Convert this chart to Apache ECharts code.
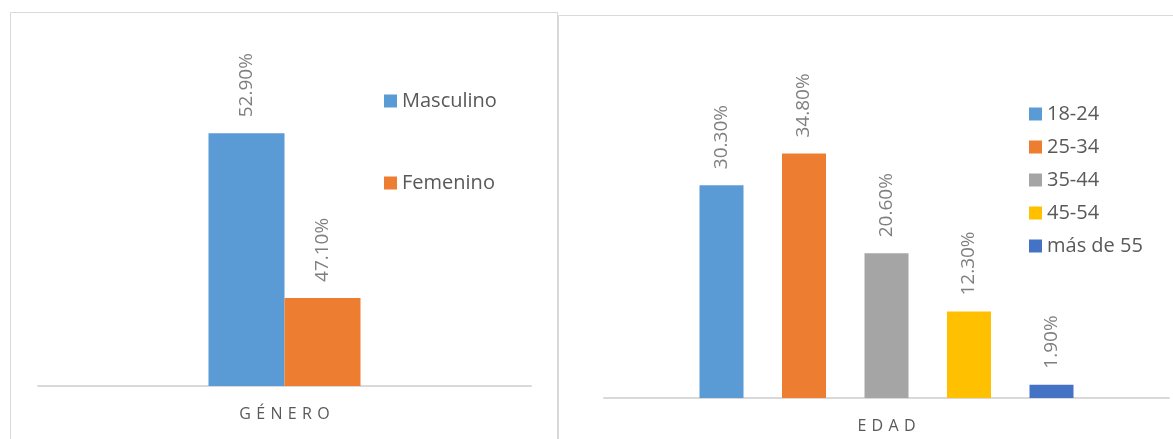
<!DOCTYPE html>
<html>
<head>
<meta charset="utf-8">
<script src="https://cdn.jsdelivr.net/npm/echarts@6.0.0/dist/echarts.min.js"></script>
<style>
  html, body { margin: 0; padding: 0; background: #fff; }
  #chart { width: 1173px; height: 439px; }
</style>
</head>
<body>
<div id="chart"></div>
<script>
// datos
const generoNames = ['Masculino', 'Femenino'];
const generoValues = [52.9, 47.1];
const generoColors = ['#5b9bd5', '#ed7d31'];

const edadNames = ['18-24', '25-34', '35-44', '45-54', 'más de 55'];
const edadValues = [30.3, 34.8, 20.6, 12.3, 1.9];
const edadColors = ['#5b9bd5', '#ed7d31', '#a5a5a5', '#ffc000', '#4472c4'];

const FONT = '"Open Sans", sans-serif';
const SP = '\u2004';

const chart = echarts.init(document.getElementById('chart'));

const label = {
  show: true,
  position: 'top',
  rotate: 90,
  align: 'left',
  verticalAlign: 'middle',
  distance: 16,
  color: '#7f7f7f',
  fontFamily: FONT,
  fontSize: 19,
  formatter: p => p.value.toFixed(2) + '%'
};

function xAx(idx, name) {
  return {
    type: 'category',
    gridIndex: idx,
    data: [name],
    name: name.split('').join(SP),
    nameLocation: 'middle',
    nameGap: 20,
    nameTextStyle: { color: '#595959', fontFamily: FONT, fontSize: 16 },
    axisLine: { lineStyle: { color: '#d9d9d9', width: 2 } },
    axisTick: { show: false },
    axisLabel: { show: false }
  };
}

function yAx(idx, min, max) {
  return {
    type: 'value',
    gridIndex: idx,
    min: min,
    max: max,
    show: false,
    splitLine: { show: false }
  };
}

const series = [];
generoNames.forEach((n, i) => {
  series.push({
    name: n, type: 'bar', xAxisIndex: 0, yAxisIndex: 0,
    data: [generoValues[i]],
    barWidth: 76, barGap: '0%',
    itemStyle: { color: generoColors[i] },
    label: label
  });
});
edadNames.forEach((n, i) => {
  series.push({
    name: n, type: 'bar', xAxisIndex: 1, yAxisIndex: 1,
    data: [edadValues[i]],
    barWidth: 44, barGap: '87.5%',
    itemStyle: { color: edadColors[i] },
    label: label
  });
});

const legendText = { color: '#595959', fontFamily: FONT, fontSize: 20 };

chart.setOption({
  animation: false,
  backgroundColor: '#fff',
  graphic: [
    { type: 'rect', shape: { x: 10.5, y: 12.5, width: 547, height: 440 },
      style: { fill: 'none', stroke: '#d9d9d9', lineWidth: 1 }, silent: true },
    { type: 'rect', shape: { x: 558.5, y: 15.5, width: 700, height: 440 },
      style: { fill: 'none', stroke: '#d9d9d9', lineWidth: 1 }, silent: true }
  ],
  legend: [
    {
      data: generoNames, orient: 'vertical', left: 379, top: 86,
      itemWidth: 13, itemHeight: 13, itemGap: 62, icon: 'rect',
      textStyle: legendText
    },
    {
      data: edadNames, orient: 'vertical', left: 1024, top: 99,
      itemWidth: 13, itemHeight: 13, itemGap: 13, icon: 'rect',
      textStyle: legendText
    }
  ],
  grid: [
    { left: 38, right: 642, top: 102, bottom: 53 },
    { left: 604, right: 4, top: 117, bottom: 38 }
  ],
  xAxis: [xAx(0, 'GÉNERO'), xAx(1, 'EDAD')],
  yAxis: [yAx(0, 44, 54), yAx(1, 0, 40)],
  series: series
});
</script>
</body>
</html>
